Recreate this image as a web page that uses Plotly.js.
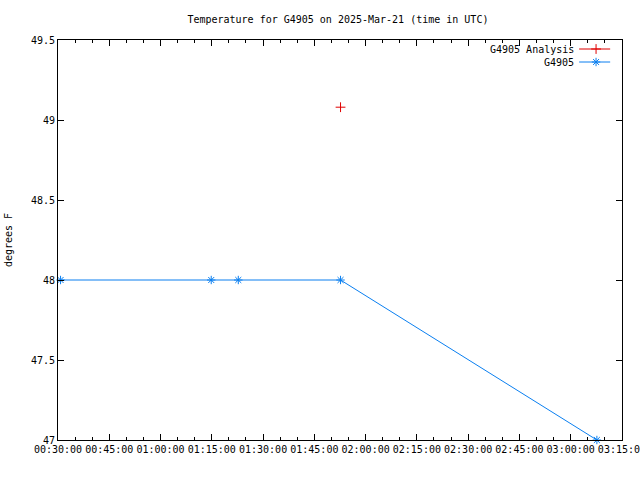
<!DOCTYPE html>
<html>
<head>
<meta charset="utf-8">
<script src="https://cdn.plot.ly/plotly-3.0.1.min.js"></script>
<style>
html,body{margin:0;padding:0;background:#fff;}
#chart{width:640px;height:480px;}
</style>
</head>
<body>
<div id="chart"></div>
<script>
// Data
var obsTimes = ['2025-03-21 00:30:45', '2025-03-21 01:14:50', '2025-03-21 01:22:45', '2025-03-21 01:52:40', '2025-03-21 03:07:40'];
var obsTemps = [48, 48, 48, 48, 47];
var anaTimes = ['2025-03-21 01:52:40'];
var anaTemps = [49.08];
var legendNames = ['G4905 Analysis', 'G4905'];

var FONT = 'DejaVu Sans Mono, Liberation Mono, monospace';
var blue = '#0a7ff0';
var red = '#e00000';

var traces = [
  {x: obsTimes, y: obsTemps, type: 'scatter', mode: 'lines+markers', name: legendNames[1],
   line: {color: blue, width: 1}, marker: {symbol: 'asterisk-open', size: 7, color: blue, line: {color: blue, width: 1}},
   showlegend: false, cliponaxis: false},
  {x: anaTimes, y: anaTemps, type: 'scatter', mode: 'markers', name: legendNames[0],
   marker: {symbol: 'cross-thin-open', size: 7, color: red, line: {color: red, width: 1}},
   showlegend: false, cliponaxis: false},
  // legend samples (overlay axes spanning the plot area)
  {x: [0.954], y: [0.9775], xaxis: 'x2', yaxis: 'y2', type: 'scatter', mode: 'markers', showlegend: false, hoverinfo: 'skip',
   marker: {symbol: 'cross-thin-open', size: 7, color: red, line: {color: red, width: 1}}},
  {x: [0.954], y: [0.945], xaxis: 'x2', yaxis: 'y2', type: 'scatter', mode: 'markers', showlegend: false, hoverinfo: 'skip',
   marker: {symbol: 'asterisk-open', size: 7, color: blue, line: {color: blue, width: 1}}}
];

var layout = {
  width: 640, height: 480,
  margin: {l: 58, r: 18, t: 40, b: 40},
  paper_bgcolor: '#fff', plot_bgcolor: '#fff',
  font: {family: FONT, size: 10, color: '#000'},
  title: {text: 'Temperature for G4905 on 2025-Mar-21 (time in UTC)', x: 0.528, xanchor: 'center', y: 0.96, yanchor: 'middle',
          font: {family: FONT, size: 10, color: '#000'}},
  showlegend: false,
  xaxis: {
    type: 'date', range: ['2025-03-21 00:30:00', '2025-03-21 03:15:01'],
    tick0: '2025-03-21 00:30:00', dtick: 900000, tickformat: '%H:%M:%S', tickangle: 0,
    ticklabeloverflow: 'allow', automargin: false,
    ticks: 'inside', ticklen: 6, tickcolor: '#000', showline: true, linecolor: '#000', linewidth: 1, mirror: 'ticks',
    showgrid: false, zeroline: false, tickfont: {family: FONT, size: 10},
    minor: {dtick: 300000, ticks: 'inside', ticklen: 3, tickcolor: '#000', showgrid: false}
  },
  yaxis: {
    range: [47, 49.5], dtick: 0.5, tick0: 47,
    ticks: 'inside', ticklen: 6, tickcolor: '#000', showline: true, linecolor: '#000', linewidth: 1, mirror: 'ticks',
    showgrid: false, zeroline: false, tickfont: {family: FONT, size: 10},
    title: {text: 'degrees F', font: {family: FONT, size: 10}, standoff: 16}
  },
  xaxis2: {overlaying: 'x', range: [0, 1], visible: false, fixedrange: true},
  yaxis2: {overlaying: 'y', range: [0, 1], visible: false, fixedrange: true},
  shapes: [
    {type: 'line', xref: 'x2', yref: 'y2', x0: 0.924, x1: 0.979, y0: 0.9775, y1: 0.9775, line: {color: red, width: 1}},
    {type: 'line', xref: 'x2', yref: 'y2', x0: 0.924, x1: 0.979, y0: 0.945, y1: 0.945, line: {color: blue, width: 1}}
  ],
  annotations: [
    {xref: 'x2', yref: 'y2', x: 0.919, y: 0.9775, text: legendNames[0], showarrow: false, xanchor: 'right', yanchor: 'middle', font: {family: FONT, size: 10}},
    {xref: 'x2', yref: 'y2', x: 0.919, y: 0.945, text: legendNames[1], showarrow: false, xanchor: 'right', yanchor: 'middle', font: {family: FONT, size: 10}}
  ]
};

Plotly.newPlot('chart', traces, layout, {staticPlot: true, displayModeBar: false});
</script>
</body>
</html>
